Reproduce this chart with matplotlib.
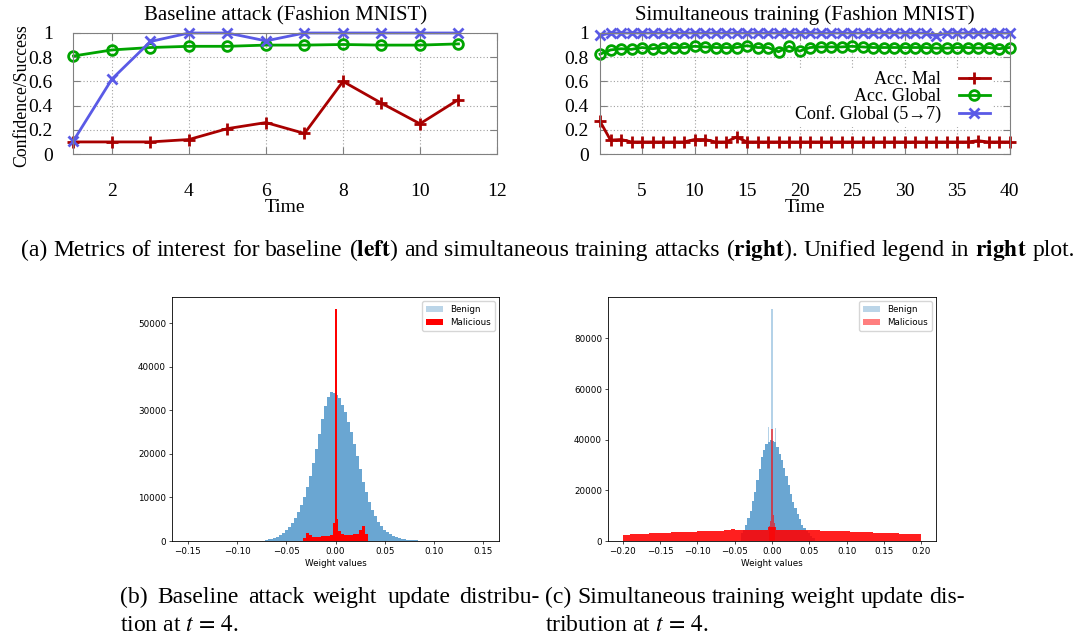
import numpy as np
import matplotlib
matplotlib.use("Agg")
import matplotlib.pyplot as plt
from matplotlib.patches import Patch

SERIF = ['Liberation Serif', 'DejaVu Serif']
SANS = ['DejaVu Sans']
plt.rcParams['mathtext.fontset'] = 'stix'

# --- (a) left: baseline attack, Fashion MNIST ---
base_time = list(range(1, 12))
base_acc_mal = [0.10, 0.10, 0.10, 0.12, 0.21, 0.26, 0.17, 0.60, 0.42, 0.25, 0.45]
base_acc_global = [0.81, 0.86, 0.88, 0.89, 0.89, 0.90, 0.90, 0.905, 0.90, 0.90, 0.91]
base_conf_global = [0.11, 0.62, 0.93, 1.0, 1.0, 0.935, 1.0, 1.0, 1.0, 1.0, 1.0]

# --- (a) right: simultaneous training, Fashion MNIST ---
sim_time = list(range(1, 41))
sim_acc_mal = [0.27, 0.115, 0.12, 0.10, 0.10, 0.10, 0.10, 0.10, 0.10, 0.12,
               0.12, 0.10, 0.10, 0.14, 0.10, 0.10, 0.10, 0.10, 0.10, 0.10,
               0.10, 0.10, 0.10, 0.10, 0.10, 0.10, 0.10, 0.10, 0.10, 0.10,
               0.10, 0.10, 0.10, 0.10, 0.10, 0.10, 0.11, 0.10, 0.10, 0.10]
sim_acc_global = [0.825, 0.86, 0.87, 0.865, 0.88, 0.87, 0.88, 0.88, 0.88, 0.89,
                  0.885, 0.88, 0.88, 0.88, 0.895, 0.88, 0.88, 0.845, 0.89, 0.85,
                  0.88, 0.885, 0.885, 0.885, 0.89, 0.885, 0.88, 0.88, 0.88, 0.88,
                  0.88, 0.88, 0.875, 0.875, 0.88, 0.88, 0.875, 0.88, 0.87, 0.88]
sim_conf_global = [0.98, 1.0, 1.0, 1.0, 1.0, 1.0, 1.0, 1.0, 1.0, 1.0,
                   1.0, 1.0, 1.0, 1.0, 1.0, 1.0, 1.0, 1.0, 1.0, 1.0,
                   1.0, 1.0, 1.0, 1.0, 1.0, 1.0, 1.0, 1.0, 1.0, 1.0,
                   1.0, 1.0, 0.975, 1.0, 1.0, 1.0, 1.0, 1.0, 1.0, 1.0]

# --- (b) baseline weight histogram (bin width 0.003, plus fine spike bins) ---
b_benign_start = -0.0705
b_benign_counts = [200, 350, 500, 700, 950, 1300, 1800, 2500, 3200, 4200,
                   5300, 6600, 8200, 10200, 12500, 15000, 17900, 21000, 24500, 28000,
                   31000, 33000, 34200, 34000, 33600, 32800, 31300, 29500, 27300, 25000,
                   22200, 19500, 16500, 13500, 11200, 9000, 7200, 5700, 4400, 3400,
                   2600, 2000, 1500, 1150, 900, 700, 550, 420, 320, 250,
                   180, 120, 60]
b_mal_start = -0.0315
b_mal_counts = [800, 1900, 1300, 1000, 1000, 1000, 1050, 1050, 1100, 1300,
                2500, 3000, 2200, 1500, 1400, 1400, 1450, 1500, 1700, 2500,
                3500, 1500]
b_mal_spike_x = [-0.002, 0.0, 0.002]
b_mal_spike_counts = [4100, 53300, 5100]

# --- (c) simultaneous weight histogram ---
c_benign_start = -0.0405
c_benign_counts = [3000, 4500, 6500, 9000, 12000, 16000, 19500, 24000, 28500, 33000,
                   36000, 38500, 39000, 40000, 39500, 39000, 37000, 34500, 32000, 29000,
                   25500, 22000, 18500, 15500, 13000, 10500, 8500, 6500, 5000, 4000,
                   3000, 2000, 1000]
c_benign_spike_x = [-0.0045, 0.0, 0.0045]
c_benign_spike_counts = [45000, 91700, 44500]
c_mal_start = -0.1975
c_mal_counts = [2400, 2500, 2600, 2700, 2800, 2850, 2900, 3000, 3050, 3150,
                3250, 3300, 3350, 3400, 3450, 3500, 3600, 3650, 3700, 3750,
                3800, 3850, 3900, 3950, 4000, 4050, 4100, 4200, 4400, 4700,
                4500, 4300, 4300, 4300, 4300, 4350, 4300, 4350, 4400, 5500,
                5500, 4400, 4300, 4300, 4300, 4250, 4250, 4200, 4200, 4300,
                4400, 4300, 4200, 4100, 4050, 4000, 4000, 3950, 3900, 3850,
                3800, 3700, 3650, 3600, 3500, 3450, 3400, 3350, 3300, 3250,
                3200, 3100, 3050, 3000, 2950, 2900, 2850, 2800, 2700, 2600]
c_mal_spike_x = [-0.003, -0.0015, 0.0, 0.0015, 0.003]
c_mal_spike_counts = [6000, 8000, 44300, 10300, 7000]

MAL_COLOR = '#a80000'
GLOBAL_COLOR = '#00a400'
CONF_COLOR = '#5a5ae6'
BENIGN_COLOR = '#6aa6d2'


def draw_metrics(ax, t, mal, glob, conf):
    kw = dict(lw=2, mew=2, clip_on=False)
    ax.plot(t, mal, color=MAL_COLOR, marker='+', ms=9, label='Acc. Mal', **kw)
    ax.plot(t, glob, color=GLOBAL_COLOR, marker='o', ms=7, mfc='none',
            label='Acc. Global', **kw)
    ax.plot(t, conf, color=CONF_COLOR, marker='x', ms=7,
            label='Conf. Global (5\u21927)', **kw)


def style_gnuplot(ax, xlim, xticks, ypad):
    ax.set_xlim(*xlim)
    ax.set_ylim(0, 1)
    ax.set_xticks(xticks)
    ax.set_xticklabels([str(v) for v in xticks])
    yt = [0, 0.2, 0.4, 0.6, 0.8, 1]
    ax.set_yticks(yt)
    ax.set_yticklabels(['0', '0.2', '0.4', '0.6', '0.8', '1'])
    for s in ax.spines.values():
        s.set_color('#808080')
        s.set_linewidth(0.8)
    ax.grid(True, color='#a0a0a0', linestyle=(0, (1, 2)), linewidth=0.8)
    ax.set_axisbelow(True)
    ax.tick_params(direction='in', length=5, color='#808080',
                   top=True, right=True, labelsize=14)
    ax.tick_params(axis='x', pad=21)
    ax.tick_params(axis='y', pad=ypad)
    for lab in ax.get_xticklabels() + ax.get_yticklabels():
        lab.set_fontfamily(SERIF)
    ax.set_xlabel('Time', fontsize=14, family=SERIF)
    ax.xaxis.set_label_coords(0.5, -0.44)
    ax.xaxis.label.set_va('center')


def style_hist(ax, xticks, yticks, xlim, ylim):
    ax.set_xlim(*xlim)
    ax.set_ylim(*ylim)
    ax.set_xticks(xticks)
    ax.set_xticklabels([f'{v:.2f}'.replace('-', '\u2212') for v in xticks])
    ax.set_yticks(yticks)
    ax.set_yticklabels([str(v) for v in yticks])
    for s in ax.spines.values():
        s.set_linewidth(0.6)
    ax.tick_params(length=2.3, width=0.5, pad=2, labelsize=6.3)
    for lab in ax.get_xticklabels() + ax.get_yticklabels():
        lab.set_fontfamily(SANS)
    ax.set_xlabel('Weight values', fontsize=6.3, family=SANS, labelpad=2)


def centers(start, n, step):
    return start + step * np.arange(n)


def justified(fig, line, x0_px, x1_px, y_px, size):
    """Spread the words of a caption line evenly between two pixel columns.
    y_px is the text baseline, in pixels from the top."""
    renderer = fig.canvas.get_renderer()
    W, H = fig.bbox.width, fig.bbox.height
    items = [fig.text(0, 1 - y_px / H, w, ha='left', va='baseline',
                      fontsize=size, family=SERIF) for w in line.split(' ')]
    widths = [t.get_window_extent(renderer).width for t in items]
    gap = (x1_px - x0_px - sum(widths)) / max(len(items) - 1, 1)
    pos = x0_px
    for t, w in zip(items, widths):
        t.set_x(pos / W)
        pos += w + gap


fig = plt.figure(figsize=(10.79, 6.37), dpi=100)

# top left
ax1 = fig.add_axes([0.0681, 0.7582, 0.3925, 0.19])
draw_metrics(ax1, base_time, base_acc_mal, base_acc_global, base_conf_global)
style_gnuplot(ax1, (1, 12), [2, 4, 6, 8, 10, 12], 15)
ax1.set_title('Baseline attack (Fashion MNIST)', fontsize=15, family=SERIF, pad=9)
ax1.set_ylabel('Confidence/Success', fontsize=12.8, family=SERIF)
ax1.yaxis.set_label_coords(-0.103, 0.48)

# top right
ax2 = fig.add_axes([0.5561, 0.7582, 0.3795, 0.19])
draw_metrics(ax2, sim_time, sim_acc_mal, sim_acc_global, sim_conf_global)
style_gnuplot(ax2, (1, 40), [5, 10, 15, 20, 25, 30, 35, 40], 8)
ax2.set_title('Simultaneous training (Fashion MNIST)', fontsize=15, family=SERIF, pad=9)
ax2.legend(loc='center right', bbox_to_anchor=(0.96, 0.47), markerfirst=False,
           frameon=True, framealpha=1, edgecolor='none', fancybox=False,
           prop={'family': SERIF, 'size': 13}, handlelength=1.7,
           labelspacing=0.0, borderpad=0.2, handletextpad=1.0,
           borderaxespad=0)

# bottom left histogram
ax3 = fig.add_axes([0.1594, 0.1507, 0.3031, 0.3831])
ax3.bar(centers(b_benign_start, len(b_benign_counts), 0.003), b_benign_counts,
        width=0.003, color=BENIGN_COLOR, linewidth=0)
ax3.bar(centers(b_mal_start, len(b_mal_counts), 0.003), b_mal_counts,
        width=0.003, color='red', linewidth=0)
ax3.bar(b_mal_spike_x, b_mal_spike_counts, width=0.002, color='red', linewidth=0)
style_hist(ax3, [-0.15, -0.10, -0.05, 0.0, 0.05, 0.10, 0.15],
           [0, 10000, 20000, 30000, 40000, 50000], (-0.166, 0.166), (0, 56000))
ax3.legend(handles=[Patch(facecolor='#1f77b4', alpha=0.3, label='Benign'),
                    Patch(facecolor='red', label='Malicious')],
           loc='upper right', prop={'family': SANS, 'size': 6.3})

# bottom right histogram
ax4 = fig.add_axes([0.5635, 0.1507, 0.304, 0.3831])
ax4.bar(centers(c_benign_start, len(c_benign_counts), 0.003), c_benign_counts,
        width=0.003, color=BENIGN_COLOR, linewidth=0)
ax4.bar(c_benign_spike_x, c_benign_spike_counts, width=0.0015,
        color=BENIGN_COLOR, alpha=0.5, linewidth=0)
ax4.bar(centers(c_mal_start, len(c_mal_counts), 0.005), c_mal_counts,
        width=0.005, color='red', alpha=0.88, linewidth=0)
ax4.bar(c_mal_spike_x, c_mal_spike_counts, width=0.0015, color='red',
        alpha=0.6, linewidth=0)
style_hist(ax4, [-0.20, -0.15, -0.10, -0.05, 0.0, 0.05, 0.10, 0.15, 0.20],
           [0, 20000, 40000, 60000, 80000], (-0.22, 0.22), (0, 96400))
ax4.legend(handles=[Patch(facecolor='#1f77b4', alpha=0.3, label='Benign'),
                    Patch(facecolor='red', alpha=0.5, label='Malicious')],
           loc='upper right', prop={'family': SANS, 'size': 6.3})

# captions (baselines in pixels from the top)
justified(fig, r'(a) Metrics of interest for baseline ($\mathbf{left}$) and simultaneous '
          r'training attacks ($\mathbf{right}$). Unified legend in $\mathbf{right}$ plot.',
          21, 1075, 256, 17)
justified(fig, '(b) Baseline attack weight update distribu-', 120, 540, 603, 17)
fig.text(120 / 1079, 1 - 631 / 637, r'tion at $t\,=\,4$.',
         ha='left', va='baseline', fontsize=17, family=SERIF)
justified(fig, '(c) Simultaneous training weight update dis-', 545, 965, 603, 17)
fig.text(545 / 1079, 1 - 631 / 637, r'tribution at $t\,=\,4$.',
         ha='left', va='baseline', fontsize=17, family=SERIF)

fig.savefig('out.png', dpi=100)
